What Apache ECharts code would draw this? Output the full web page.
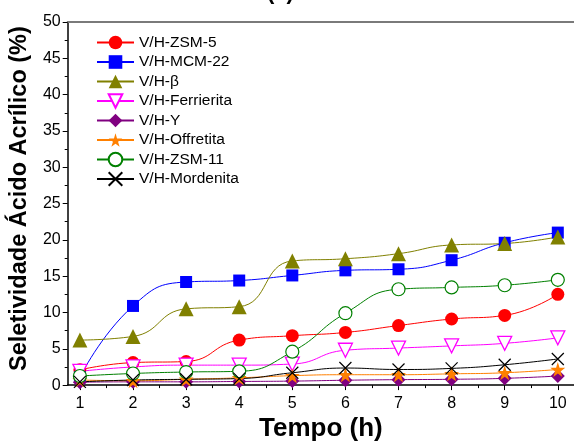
<!DOCTYPE html>
<html>
<head>
<meta charset="utf-8">
<script src="https://cdn.jsdelivr.net/npm/echarts@6/dist/echarts.min.js"></script>
<style>
  html, body { margin: 0; padding: 0; background: #fff; }
  #chart { width: 574px; height: 447px; }
</style>
</head>
<body>
<div id="chart"></div>
<script>
// Reaction time (h)
const hours = [1, 2, 3, 4, 5, 6, 7, 8, 9, 10];
const halfHours = [1.5, 2.5, 3.5, 4.5, 5.5, 6.5, 7.5, 8.5, 9.5];
const yTicks = [0, 5, 10, 15, 20, 25, 30, 35, 40, 45, 50];

// Acrylic acid selectivity (%) per catalyst
const zsm5       = [2.1, 3.1, 3.25, 6.2, 6.8, 7.25, 8.2, 9.1, 9.6, 12.5];
const mcm22      = [1.1, 10.9, 14.2, 14.4, 15.1, 15.8, 15.95, 17.2, 19.6, 21.0];
const beta       = [6.2, 6.7, 10.5, 10.8, 17.1, 17.4, 18.1, 19.3, 19.5, 20.4];
const ferrierita = [1.9, 2.5, 2.75, 2.75, 2.9, 4.8, 5.1, 5.4, 5.75, 6.5];
const zeoliteY   = [0.4, 0.45, 0.45, 0.5, 0.55, 0.67, 0.75, 0.8, 0.93, 1.25];
const offretita  = [0.7, 0.6, 0.8, 1.0, 1.3, 1.43, 1.43, 1.55, 1.7, 2.15];
const zsm11      = [1.25, 1.6, 1.8, 1.9, 4.6, 9.9, 13.2, 13.45, 13.75, 14.5];
const mordenita  = [0.45, 0.7, 0.8, 0.9, 1.7, 2.35, 2.15, 2.3, 2.8, 3.6];

const FONT = '"Liberation Sans", Arial, sans-serif';
const STAR = 'path://M50,0 L61,35 L98,35 L68,57 L79,91 L50,70 L21,91 L32,57 L2,35 L39,35 Z';
const DOWN_TRI = 'path://M0,0 L10,0 L5,9 Z';
const CROSS = 'path://M0,0 L10,10 M10,0 L0,10';

function pairs(values) {
  return hours.map((h, i) => [h, values[i]]);
}

function makeSeries(name, values, color, symbol, size, opts) {
  opts = opts || {};
  return {
    name: name,
    type: 'line',
    xAxisIndex: 0,
    yAxisIndex: 0,
    data: pairs(values),
    smooth: 0.5,
    symbol: symbol,
    symbolSize: size,
    showSymbol: true,
    lineStyle: { color: color, width: 1 },
    itemStyle: Object.assign({ color: color, borderWidth: 0 }, opts.itemStyle || {}),
    emphasis: { disabled: true },
    z: 3
  };
}

const series = [
  makeSeries('V/H-ZSM-5', zsm5, '#ff0000', 'circle', 13),
  makeSeries('V/H-MCM-22', mcm22, '#0000ff', 'rect', 12),
  makeSeries('V/H-β', beta, '#808000', 'triangle', 15),
  makeSeries('V/H-Ferrierita', ferrierita, '#ff00ff', DOWN_TRI, 14,
    { itemStyle: { color: '#ffffff', borderColor: '#ff00ff', borderWidth: 1.3 } }),
  makeSeries('V/H-Y', zeoliteY, '#800080', 'diamond', 14),
  makeSeries('V/H-Offretita', offretita, '#ff8000', STAR, 15),
  makeSeries('V/H-ZSM-11', zsm11, '#008000', 'circle', 13,
    { itemStyle: { color: '#ffffff', borderColor: '#008000', borderWidth: 1.2 } }),
  makeSeries('V/H-Mordenita', mordenita, '#000000', CROSS, 12,
    { itemStyle: { color: 'rgba(0,0,0,0)', borderColor: '#000000', borderWidth: 1.2 } })
];

const chart = echarts.init(document.getElementById('chart'), null, { renderer: 'canvas' });

const xMin = 0.77, xMax = 10.305;

chart.setOption({
  animation: false,
  backgroundColor: '#ffffff',
  title: {
    text: '(a)',
    left: 262,
    top: -23,
    textStyle: { fontFamily: FONT, fontSize: 22, fontWeight: 'bold', color: '#000' }
  },
  grid: { left: 66, right: -5, top: 22, bottom: 51, containLabel: false },
  legend: {
    left: 91,
    top: 29,
    orient: 'vertical',
    itemWidth: 37,
    itemHeight: 17,
    itemGap: 2.5,
    textStyle: { fontFamily: FONT, fontSize: 15.5, color: '#000', lineHeight: 17 },
    data: series.map(s => s.name)
  },
  xAxis: [
    {
      type: 'value',
      position: 'bottom',
      min: xMin,
      max: xMax,
      name: 'Tempo (h)',
      nameLocation: 'middle',
      nameGap: 24,
      nameTextStyle: { fontFamily: FONT, fontSize: 26, fontWeight: 'bold', color: '#000' },
      axisLine: { show: true, onZero: false, lineStyle: { color: '#000', width: 1.5 } },
      axisTick: { show: true, inside: false, length: 5, customValues: hours, lineStyle: { color: '#000', width: 1 } },
      axisLabel: { show: true, customValues: hours, margin: 10, fontFamily: FONT, fontSize: 16, color: '#000' },
      splitLine: { show: false }
    },
    {
      type: 'value',
      position: 'bottom',
      min: xMin,
      max: xMax,
      axisLine: { show: false, onZero: false },
      axisTick: { show: true, inside: false, length: 3, customValues: halfHours, lineStyle: { color: '#000', width: 1 } },
      axisLabel: { show: false },
      splitLine: { show: false }
    },
    {
      type: 'value',
      position: 'top',
      min: xMin,
      max: xMax,
      axisLine: { show: true, onZero: false, lineStyle: { color: '#7a7a7a', width: 2 } },
      axisTick: { show: false },
      axisLabel: { show: false },
      splitLine: { show: false }
    }
  ],
  yAxis: [
    {
      type: 'value',
      min: 0,
      max: 50,
      interval: 5,
      name: 'Seletividade Ácido Acrílico (%)',
      nameLocation: 'middle',
      nameGap: 33,
      nameTextStyle: {
        fontFamily: FONT, fontSize: 23.5, fontWeight: 'bold', color: '#000',
        padding: [0, 0, 0, 10]
      },
      axisLine: { show: true, onZero: false, lineStyle: { color: '#000', width: 1.5 } },
      axisTick: { show: true, inside: false, length: 5, lineStyle: { color: '#000', width: 1 } },
      minorTick: { show: true, splitNumber: 2, length: 3, lineStyle: { color: '#000', width: 1 } },
      axisLabel: {
        margin: 7, fontFamily: FONT, fontSize: 16, color: '#000',
        customValues: yTicks
      },
      splitLine: { show: false },
      minorSplitLine: { show: false }
    }
  ],
  series: series
});
</script>
</body>
</html>
